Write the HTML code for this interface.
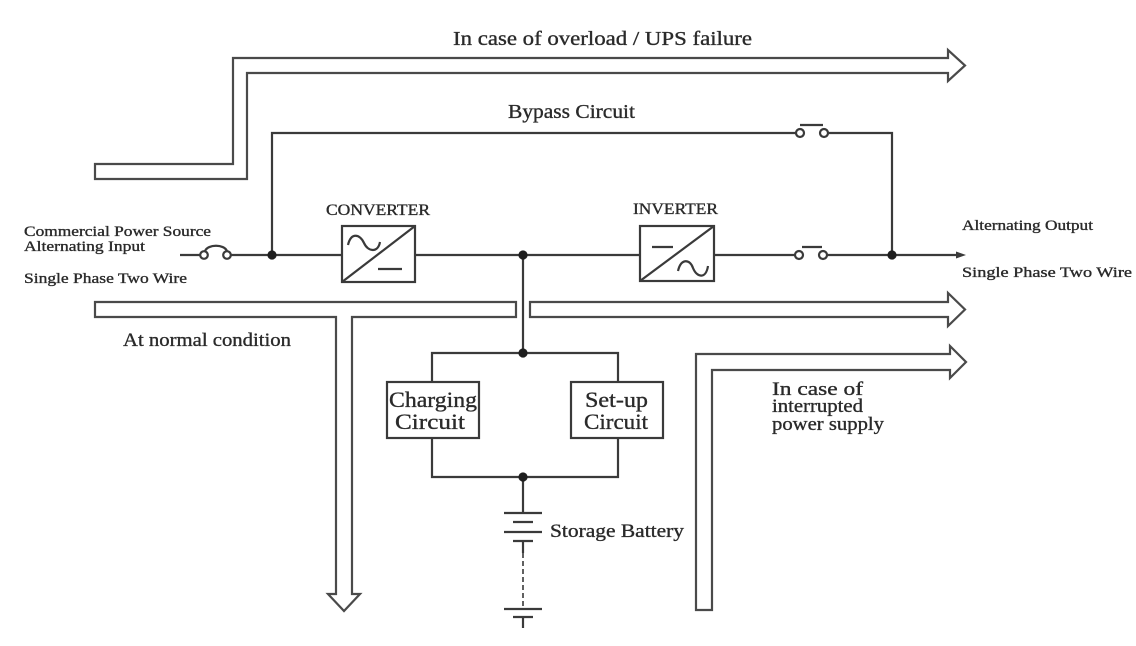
<!DOCTYPE html>
<html>
<head>
<meta charset="utf-8">
<style>
  html,body{margin:0;padding:0;background:#fff;}
  svg{display:block;}
  text{font-family:"Liberation Serif",serif;fill:#2a2a2a;stroke:#2a2a2a;stroke-width:0.35;}
</style>
</head>
<body>
<svg width="1136" height="646" viewBox="0 0 1136 646" xmlns="http://www.w3.org/2000/svg">
  <rect width="1136" height="646" fill="#fff"/>

  <!-- Flow arrows (outlined bands) -->
  <g fill="none" stroke="#4a4a4a" stroke-width="2.2" stroke-linejoin="miter">
    <path d="M95,164 L233,164 L233,58 L948,58 L948,50 L965,65.5 L948,81 L948,73 L247,73 L247,179 L95,179 Z"/>
    <path d="M95,302 L516,302 L516,317 L352,317 L352,594 L360,594 L344,611 L328,594 L336,594 L336,317 L95,317 Z"/>
    <path d="M530,302 L948,302 L948,293 L965,309.5 L948,326 L948,317 L530,317 Z"/>
    <path d="M696,610 L696,354 L950,354 L950,346 L966,362 L950,378 L950,370 L712,370 L712,610 Z"/>
  </g>

  <!-- Wiring -->
  <g fill="none" stroke="#3a3a3a" stroke-width="2.2">
    <path d="M272,255 L272,133 L796,133"/>
    <circle cx="800" cy="133" r="4"/>
    <circle cx="824" cy="133" r="4"/>
    <path d="M800,125 L823,125"/>
    <path d="M828,133 L892,133 L892,255"/>

    <path d="M180,255 L200,255"/>
    <circle cx="204" cy="255" r="3.8"/>
    <circle cx="227" cy="255" r="3.8"/>
    <path d="M205,251 C208,244 224,244 227,251"/>
    <path d="M231,255 L342,255"/>
    <rect x="342" y="226" width="73" height="56"/>
    <path d="M342,282 L415,226"/>
    <path d="M348,245 C351,232 360,234 364,243 C368,252 378,253 380,242"/>
    <path d="M378,269 L402,269"/>
    <path d="M415,255 L640,255"/>
    <rect x="640" y="226" width="74" height="55"/>
    <path d="M640,281 L714,226"/>
    <path d="M652,247 L673,247"/>
    <path d="M678,271 C681,258 690,259 693,268 C697,278 706,279 708,266"/>
    <path d="M714,255 L795,255"/>
    <circle cx="799" cy="255" r="4"/>
    <circle cx="823" cy="255" r="4"/>
    <path d="M802,247 L822,247"/>
    <path d="M827,255 L958,255"/>

    <path d="M523,255 L523,353"/>
    <path d="M432,382 L432,353 L618,353 L618,382"/>
    <path d="M432,438 L432,477 L618,477 L618,438"/>
    <rect x="387" y="382" width="92" height="56"/>
    <rect x="571" y="382" width="92" height="56"/>

    <path d="M523,477 L523,513"/>
    <path d="M504,513 L542,513"/>
    <path d="M513,522 L533,522"/>
    <path d="M504,532 L542,532"/>
    <path d="M513,541 L533,541"/>
    <path d="M523,541 L523,553"/>
    <path d="M523,553 L523,609" stroke-dasharray="5,3" stroke-width="1.6"/>
    <path d="M504,609 L542,609"/>
    <path d="M513,617 L533,617"/>
    <path d="M523,617 L523,628"/>
  </g>
  <polygon points="956,251.5 966,255 956,258.5" fill="#3a3a3a"/>

  <g fill="#1e1e1e">
    <circle cx="272" cy="255" r="4.6"/>
    <circle cx="523" cy="255" r="4.6"/>
    <circle cx="892" cy="255" r="4.6"/>
    <circle cx="523" cy="353" r="4.6"/>
    <circle cx="523" cy="477" r="4.6"/>
  </g>

  <!-- Labels -->
  <text x="453" y="45" font-size="20" textLength="299" lengthAdjust="spacingAndGlyphs">In  case  of  overload  / UPS  failure</text>
  <text x="508" y="118" font-size="20" textLength="127" lengthAdjust="spacingAndGlyphs">Bypass  Circuit</text>
  <text x="326" y="215" font-size="16" textLength="104" lengthAdjust="spacingAndGlyphs">CONVERTER</text>
  <text x="633" y="214" font-size="16" textLength="85" lengthAdjust="spacingAndGlyphs">INVERTER</text>

  <text x="24" y="236" font-size="15" textLength="187" lengthAdjust="spacingAndGlyphs">Commercial Power Source</text>
  <text x="24" y="251" font-size="15" textLength="121" lengthAdjust="spacingAndGlyphs">Alternating Input</text>
  <text x="24" y="283" font-size="15" textLength="163" lengthAdjust="spacingAndGlyphs">Single Phase Two Wire</text>

  <text x="962" y="230" font-size="15" textLength="131" lengthAdjust="spacingAndGlyphs">Alternating Output</text>
  <text x="962" y="277" font-size="15" textLength="170" lengthAdjust="spacingAndGlyphs">Single Phase Two Wire</text>

  <text x="123" y="346" font-size="19" textLength="168" lengthAdjust="spacingAndGlyphs">At normal condition</text>

  <text x="389" y="407" font-size="22" textLength="88" lengthAdjust="spacingAndGlyphs">Charging</text>
  <text x="395" y="429" font-size="22" textLength="70" lengthAdjust="spacingAndGlyphs">Circuit</text>
  <text x="585" y="407" font-size="22" textLength="63" lengthAdjust="spacingAndGlyphs">Set-up</text>
  <text x="584" y="429" font-size="22" textLength="64" lengthAdjust="spacingAndGlyphs">Circuit</text>

  <text x="550" y="537" font-size="19" textLength="134" lengthAdjust="spacingAndGlyphs">Storage  Battery</text>

  <text x="772" y="395" font-size="19" textLength="91" lengthAdjust="spacingAndGlyphs">In  case  of</text>
  <text x="772" y="412" font-size="19" textLength="91" lengthAdjust="spacingAndGlyphs">interrupted</text>
  <text x="772" y="430" font-size="19" textLength="112" lengthAdjust="spacingAndGlyphs">power  supply</text>
</svg>
</body>
</html>
